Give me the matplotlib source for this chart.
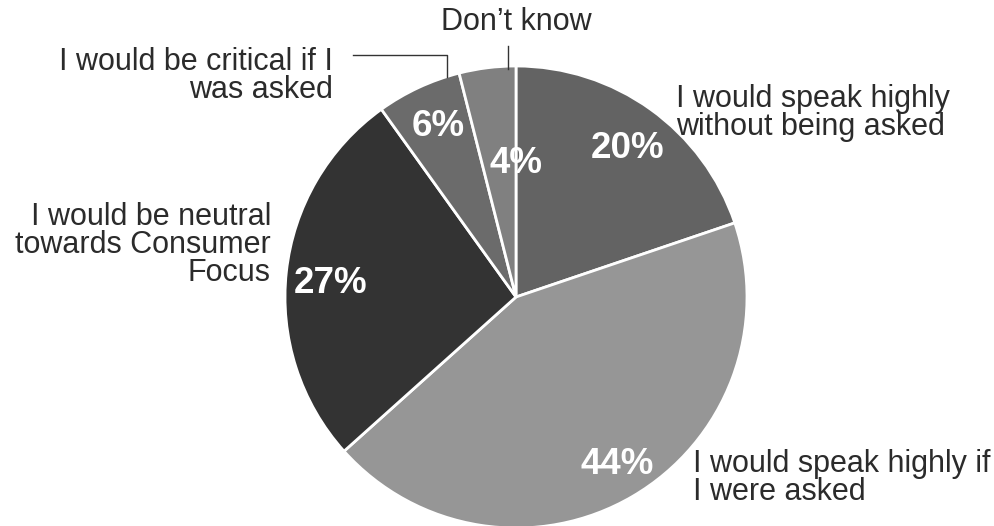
import matplotlib.pyplot as plt

plt.rcParams['font.family'] = ['Liberation Sans', 'DejaVu Sans']

# Share of responses, clockwise from 12 o'clock
labels = ['I would speak highly\nwithout being asked',
          'I would speak highly if\nI were asked',
          'I would be neutral\ntowards Consumer\nFocus',
          'I would be critical if I\nwas asked',
          'Don\u2019t know']
values = [20, 44, 27, 6, 4]
colors = ['#636363', '#969696', '#333333', '#6b6b6b', '#808080']

W, H = 995, 526
cx, cy, R = 516, 526 - 297, 231

fig = plt.figure(figsize=(W / 100, H / 100), dpi=100)
ax = fig.add_axes([0, 0, 1, 1])

ax.pie(values, center=(cx, cy), radius=R, startangle=90, counterclock=False,
       colors=colors, wedgeprops=dict(edgecolor='white', linewidth=2))

# pie() resets the view, so fix the pixel-sized limits afterwards
ax.set_xlim(0, W)
ax.set_ylim(0, H)
ax.set_aspect('equal')
ax.axis('off')

# percentage labels, offsets from the centre in pixels
pct_pos = [(112, 149), (101, -168), (-185, 14), (-78, 171), (0, 134)]
for v, (dx, dy) in zip(values, pct_pos):
    ax.text(cx + dx, cy + dy, f'{v}%', color='white', fontsize=26.5,
            fontweight='bold', ha='center', va='center')

# category labels
txt = dict(color='#2b2b2b', fontsize=22, linespacing=0.9)
ax.text(676, H - 113, labels[0], ha='left', va='center', **txt)
ax.text(693, H - 478, labels[1], ha='left', va='center', **txt)
ax.text(271, H - 245, labels[2], ha='right', va='center', multialignment='right', **txt)
ax.text(333, H - 76, labels[3], ha='right', va='center', multialignment='right', **txt)
ax.text(516, H - 22, labels[4], ha='center', va='center', **txt)

# leader lines for the two small slices
ax.plot([353, 447, 447], [H - 55, H - 55, H - 77], color='#333333', lw=1)
ax.plot([508, 508], [H - 46, H - 69], color='#333333', lw=1)

fig.savefig('out.png', dpi=100, facecolor='white')
